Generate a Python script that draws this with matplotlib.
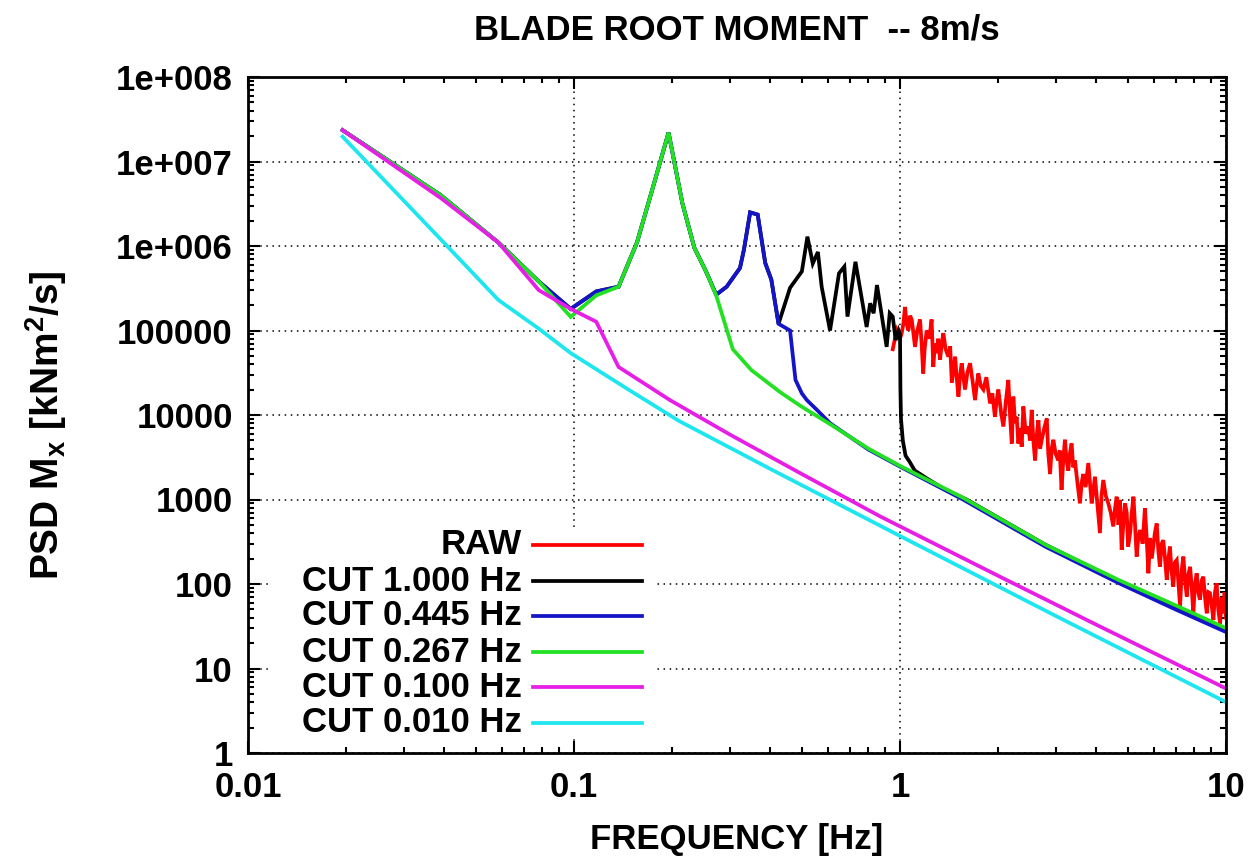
import numpy as np
import matplotlib
matplotlib.use("Agg")
import matplotlib.pyplot as plt
from matplotlib.patches import Rectangle

plt.rcParams['font.family'] = ['Liberation Sans', 'DejaVu Sans']
plt.rcParams['font.weight'] = 'bold'
plt.rcParams['mathtext.fontset'] = 'custom'
plt.rcParams['mathtext.bf'] = 'Liberation Sans:bold'
plt.rcParams['mathtext.rm'] = 'Liberation Sans:bold'
plt.rcParams['mathtext.default'] = 'bf'

# datos (frecuencia en Hz, PSD en kNm^2/s)
raw_f = [0.95, 0.977, 1.0, 1.012, 1.024, 1.036, 1.048, 1.061, 1.074, 1.087, 1.10, 1.112,
         1.13, 1.152, 1.165, 1.178, 1.19, 1.207, 1.23, 1.25, 1.265, 1.28, 1.295, 1.31,
         1.327, 1.343, 1.358, 1.38, 1.407, 1.425, 1.442, 1.46, 1.476, 1.49, 1.511, 1.53,
         1.546, 1.565, 1.583, 1.61, 1.64, 1.67, 1.699, 1.72, 1.739, 1.77, 1.802, 1.84,
         1.889, 1.92, 1.955, 1.98, 2.003, 2.04, 2.075, 2.11, 2.149, 2.175, 2.202, 2.227,
         2.254, 2.28, 2.307, 2.335, 2.362, 2.39, 2.43, 2.476, 2.505, 2.535, 2.565, 2.596,
         2.63, 2.658, 2.69, 2.722, 2.77, 2.82, 2.85, 2.886, 2.92, 2.954, 3.0, 3.059,
         3.09, 3.13, 3.17, 3.206, 3.24, 3.282, 3.32, 3.36, 3.40, 3.44, 3.50, 3.564,
         3.61, 3.65, 3.71, 3.781, 3.83, 3.872, 3.92, 3.963, 4.03, 4.105, 4.15, 4.203,
         4.28, 4.355, 4.43, 4.51, 4.57, 4.62, 4.68, 4.73, 4.786, 4.84, 4.9, 4.96,
         5.01, 5.08, 5.14, 5.20, 5.26, 5.32, 5.38, 5.45, 5.55, 5.64, 5.70, 5.78,
         5.85, 5.92, 5.98, 6.05, 6.13, 6.20, 6.27, 6.35, 6.42, 6.50, 6.58, 6.66,
         6.73, 6.80, 6.89, 6.97, 7.06, 7.15, 7.23, 7.32, 7.40, 7.49, 7.58, 7.67,
         7.76, 7.85, 7.94, 8.03, 8.13, 8.22, 8.32, 8.42, 8.52, 8.62, 8.73, 8.83,
         8.93, 9.04, 9.15, 9.25, 9.36, 9.47, 9.59, 9.7, 9.8, 9.9, 10.0]
raw_v = [6.0e4, 1.0e5, 8.0e4, 9.3e4, 1.2e5, 1.9e5, 1.2e5, 1.0e5, 1.5e5, 1.33e5, 9.0e4, 6.4e4,
         1.0e5, 1.35e5, 7.0e4, 3.1e4, 6.0e4, 1.0e5, 8.0e4, 1.35e5, 3.7e4, 7.0e4, 5.4e4, 8.0e4,
         4.5e4, 7.0e4, 9.3e4, 6.0e4, 4.9e4, 6.5e4, 2.4e4, 3.5e4, 4.9e4, 3.0e4, 1.65e4, 3.0e4,
         4.1e4, 2.8e4, 2.0e4, 3.2e4, 4.1e4, 2.5e4, 1.5e4, 2.3e4, 3.1e4, 2.2e4, 2.0e4, 2.8e4,
         1.37e4, 1.8e4, 9.5e3, 1.5e4, 2.0e4, 1.1e4, 7.3e3, 1.4e4, 2.6e4, 1.0e4, 4.6e3, 1.65e4,
         8.0e3, 9.5e3, 4.6e3, 7.0e3, 4.2e3, 1.26e4, 6.0e3, 7.3e3, 5.0e3, 1.15e4, 5.0e3, 2.9e3,
         6.0e3, 8.7e3, 4.0e3, 5.1e3, 7.0e3, 9.1e3, 3.5e3, 2.0e3, 4.0e3, 5.1e3, 3.5e3, 2.9e3,
         3.8e3, 1.3e3, 3.0e3, 5.1e3, 3.0e3, 2.2e3, 3.5e3, 4.6e3, 2.4e3, 2.9e3, 1.6e3, 900,
         1.6e3, 2.0e3, 1.4e3, 2.7e3, 1.5e3, 900, 1.3e3, 1.86e3, 900, 400, 1.1e3, 1.7e3,
         1.1e3, 900, 700, 480, 800, 1080, 500, 990, 253, 500, 900, 700,
         277, 400, 700, 1080, 500, 211, 350, 435, 300, 790, 400, 134,
         350, 200, 277, 400, 520, 250, 160, 300, 330, 200, 112, 200,
         277, 150, 93, 180, 192, 100, 54, 150, 211, 110, 71, 130,
         160, 90, 45, 100, 134, 80, 65, 110, 122, 70, 45, 80,
         78, 55, 37.5, 80, 102, 50, 34, 70, 45, 80, 40]

cut1_f = [0.0195, 0.039, 0.0586, 0.078, 0.0977, 0.117, 0.137, 0.156, 0.176, 0.195, 0.215,
          0.234, 0.254, 0.273, 0.294, 0.323, 0.332, 0.347, 0.366, 0.386, 0.403, 0.424,
          0.46, 0.50, 0.52, 0.54, 0.56, 0.575, 0.61, 0.65, 0.675, 0.69, 0.73, 0.79, 0.81,
          0.83, 0.85, 0.91, 0.93, 0.95, 0.97, 0.99, 1.0, 1.003, 1.007, 1.02, 1.04, 1.07,
          1.11, 1.23, 1.38, 1.6, 2.8, 4.7, 7.0, 10.0]
cut1_v = [2.35e7, 4.0e6, 1.1e6, 3.8e5, 1.8e5, 2.9e5, 3.3e5, 1.1e6, 5.5e6, 2.2e7, 3.2e6,
          9.5e5, 5.0e5, 2.65e5, 3.3e5, 5.5e5, 9.0e5, 2.5e6, 2.35e6, 6.3e5, 4.0e5, 1.2e5,
          3.2e5, 5.0e5, 1.29e6, 6.2e5, 8.5e5, 3.3e5, 1.0e5, 4.75e5, 5.7e5, 1.46e5, 6.5e5, 1.1e5, 2.1e5,
          1.6e5, 3.45e5, 6.4e4, 1.6e5, 1.46e5, 7.7e4, 1.0e5, 9.0e4, 2.0e4, 9.0e3, 5.0e3, 3.3e3, 2.8e3,
          2.2e3, 1.7e3, 1.3e3, 1.0e3, 290, 108, 54, 29]

cut445_f = [0.0195, 0.039, 0.0586, 0.078, 0.0977, 0.117, 0.137, 0.156, 0.176, 0.195, 0.215,
            0.234, 0.254, 0.273, 0.294, 0.323, 0.332, 0.347, 0.366, 0.386, 0.403, 0.424,
            0.46, 0.478, 0.50, 0.518, 0.556, 0.61, 0.8, 1.0, 1.56, 2.8, 4.7, 7.0, 10.0]
cut445_v = [2.35e7, 4.0e6, 1.1e6, 3.8e5, 1.8e5, 2.9e5, 3.3e5, 1.1e6, 5.5e6, 2.2e7, 3.2e6,
            9.5e5, 5.0e5, 2.65e5, 3.3e5, 5.5e5, 9.0e5, 2.5e6, 2.35e6, 6.3e5, 4.0e5, 1.2e5,
            1.0e5, 2.6e4, 1.8e4, 1.5e4, 1.15e4, 8.0e3, 3.9e3, 2.45e3, 1.0e3, 275, 102, 50, 27]

cut267_f = [0.0195, 0.039, 0.0586, 0.078, 0.0977, 0.117, 0.137, 0.156, 0.176, 0.195, 0.215,
            0.234, 0.254, 0.273, 0.307, 0.35, 0.43, 0.5, 0.61, 0.8, 1.0, 1.56, 2.8, 4.7, 7.0, 10.0]
cut267_v = [2.35e7, 4.0e6, 1.1e6, 3.8e5, 1.45e5, 2.6e5, 3.3e5, 1.1e6, 5.5e6, 2.2e7, 3.2e6,
            9.5e5, 5.0e5, 2.6e5, 6.0e4, 3.4e4, 1.85e4, 1.25e4, 7.8e3, 4.0e3, 2.5e3, 1.05e3, 290, 111, 56, 30]

cut100_f = [0.0195, 0.039, 0.0586, 0.078, 0.0977, 0.117, 0.137, 0.197, 0.3, 0.5, 0.87, 2.0, 4.0, 10.0]
cut100_v = [2.35e7, 3.7e6, 1.1e6, 3.0e5, 1.8e5, 1.27e5, 3.7e4, 1.5e4, 5.9e3, 2.0e3, 630, 125, 33, 5.8]

cut010_f = [0.0195, 0.039, 0.0586, 0.078, 0.0977, 0.15, 0.21, 0.4, 1.0, 3.0, 10.0]
cut010_v = [1.97e7, 1.2e6, 2.3e5, 1.05e5, 5.4e4, 1.9e4, 8.5e3, 2.3e3, 370, 42, 4.0]

etiquetas = ['RAW', 'CUT 1.000 Hz', 'CUT 0.445 Hz', 'CUT 0.267 Hz', 'CUT 0.100 Hz', 'CUT 0.010 Hz']
colores = ['#ff0000', '#000000', '#1414c8', '#22e022', '#e61ee6', '#1ee6ee']
series = [(raw_f, raw_v), (cut1_f, cut1_v), (cut445_f, cut445_v),
          (cut267_f, cut267_v), (cut100_f, cut100_v), (cut010_f, cut010_v)]

yticks = [1, 10, 100, 1000, 1e4, 1e5, 1e6, 1e7, 1e8]
ytick_labels = ['1', '10', '100', '1000', '10000', '100000', '1e+006', '1e+007', '1e+008']
xticks = [0.01, 0.1, 1, 10]
xtick_labels = ['0.01', '0.1', '1', '10']

fig = plt.figure(figsize=(12.51, 8.59), dpi=100)
ax = fig.add_axes([248 / 1251, 106 / 859, 978 / 1251, 676 / 859])

for (f, v), c in zip(series, colores):
    ax.plot(f, v, color=c, lw=2.7, solid_joinstyle='miter')

ax.set_xscale('log')
ax.set_yscale('log')
ax.set_xlim(0.01, 10)
ax.set_ylim(1, 1e8)
ax.set_xticks(xticks, xtick_labels)
ax.set_yticks(yticks, ytick_labels)
ax.tick_params(which='both', direction='in', top=True, right=True, labelsize=25)
ax.tick_params(which='major', length=8.5, width=1.5)
ax.tick_params(which='minor', length=4.5, width=1.5)
ax.tick_params(axis='x', pad=13)
ax.tick_params(axis='y', pad=11)
for lab in ax.get_xticklabels() + ax.get_yticklabels():
    lab.set_fontweight('bold')
for s in ax.spines.values():
    s.set_linewidth(2.0)
ax.grid(True, which='major', color='black', linestyle=(0, (1, 3)), linewidth=1.1)

# leyenda estilo gnuplot (texto a la izquierda, fondo opaco)
ax.add_patch(Rectangle((0.0225, 0.025), 0.3935, 0.309, transform=ax.transAxes,
                       facecolor='white', edgecolor='none', zorder=2))
filas = [0.3077, 0.2544, 0.2027, 0.1494, 0.0976, 0.0444]
for y, txt, c in zip(filas, etiquetas, colores):
    ax.text(0.280, y, txt, transform=ax.transAxes, ha='right', va='center',
            fontsize=25, fontweight='bold', zorder=3)
    ax.plot([0.2914, 0.403], [y, y], transform=ax.transAxes, color=c, lw=2.7, zorder=3)

fig.text(737 / 1251, 1 - 30 / 859, 'BLADE ROOT MOMENT  -- 8m/s', ha='center', va='center',
         fontsize=25, fontweight='bold')
fig.text(737 / 1251, 1 - 840 / 859, 'FREQUENCY [Hz]', ha='center', va='center',
         fontsize=25, fontweight='bold')
fig.text(46 / 1251, 1 - 425 / 859, r'PSD M$_{x}$ [kNm$^{2}$/s]', ha='center', va='center',
         rotation=90, fontsize=28, fontweight='bold')

fig.savefig('out.png', dpi=100, facecolor='white')
